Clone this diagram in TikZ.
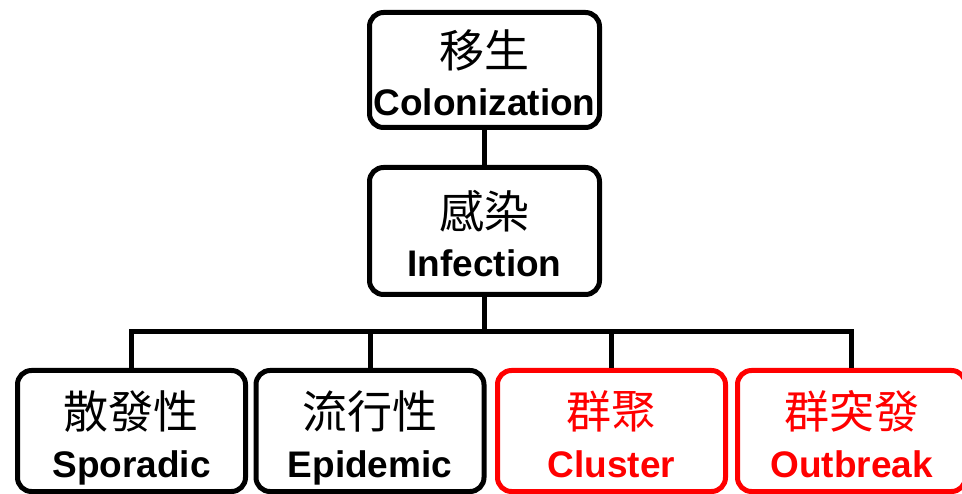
\documentclass[tikz,border=0pt]{standalone}
\usepackage{fontspec}
\setmainfont{Liberation Sans}
\newfontfamily\cjk{Noto Sans CJK TC}
\usepackage{tikz}
\usetikzlibrary{positioning}

\begin{document}
\begin{tikzpicture}[x=1pt,y=-1pt,
                box/.style={rectangle,draw=black,line width=5pt,rounded corners=14pt,fill=white,
                    align=center,inner sep=0pt,minimum width=230pt,
                    font=\fontsize{37}{48}\selectfont\bfseries},
                kind/.style={box,minimum width=228pt,minimum height=121pt},
                hot/.style={kind,draw=red,text=red},
                link/.style={draw=black,line width=5pt},
            ]

                \def\zh#1{\rule{0pt}{54pt}{\cjk\mdseries\fontsize{45}{48}\selectfont #1}}
                \def\en#1{#1\rule[-10pt]{0pt}{10pt}}
                \def\busy{332}
                \useasboundingbox (0,0) rectangle (962,494);

                % Chain from colonization down to infection
                \node[box,minimum height=115pt] (col) at (484.5,70) {\zh{移生}\\\en{Colonization}};
                \node[box,minimum height=127pt] (inf) at (484.5,231) {\zh{感染}\\\en{Infection}};

                % Kinds of infection, the last two in red
                \node[kind] (spo) at (131.5,431) {\zh{散發性}\\\en{Sporadic}};
                \node[kind] (epi) at (370,431) {\zh{流行性}\\\en{Epidemic}};
                \node[hot] (clu) at (611.5,431) {\zh{群聚}\\\en{Cluster}};
                \node[hot] (out) at (851.5,431) {\zh{群突發}\\\en{Outbreak}};

                % Connectors
                \coordinate (bus) at (484.5,\busy);
                \draw[link] (col.south) -- (inf.north);
                \draw[link] (inf.south) -- (bus);
                \draw[link] (spo.north) -- (spo.north |- bus) -- (out.north |- bus) -- (out.north);
                \draw[link] (epi.north) -- (epi.north |- bus);
                \draw[link] (clu.north) -- (clu.north |- bus);

\end{tikzpicture}
\end{document}
